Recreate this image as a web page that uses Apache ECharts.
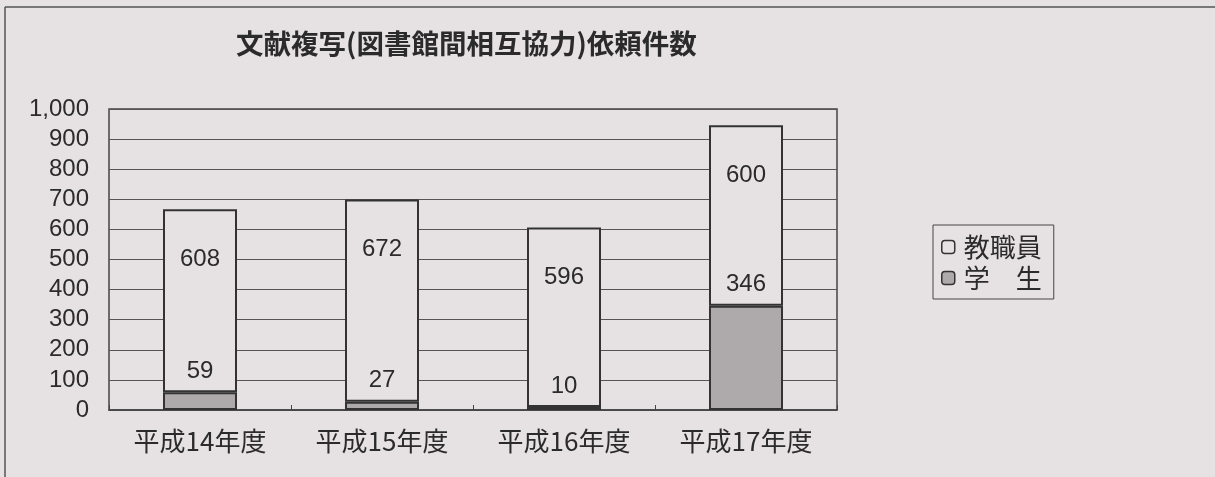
<!DOCTYPE html>
<html>
<head>
<meta charset="utf-8">
<script src="https://cdn.jsdelivr.net/npm/echarts@6/dist/echarts.min.js"></script>
<style>
html,body{margin:0;padding:0;background:#e6e2e3;}
#chart{width:1215px;height:477px;}
</style>
</head>
<body>
<div id="chart"></div>
<script>
const titleText = '文献複写(図書館間相互協力)依頼件数';
const categories = ['平成14年度', '平成15年度', '平成16年度', '平成17年度'];
const studentValues = [59, 27, 10, 346];
const staffValues = [608, 672, 596, 600];
const seriesNames = ['教職員', '学　生'];

const numFont = '"Liberation Sans", Arial, sans-serif';
const cjkFont = '"Noto Sans CJK JP", "Noto Sans", sans-serif';
const ink = '#2b2b2b';

const chart = echarts.init(document.getElementById('chart'), null, {renderer: 'canvas'});
chart.setOption({
  backgroundColor: '#e6e2e3',
  animation: false,
  title: {
    text: titleText,
    left: 231,
    top: 25,
    textStyle: {fontFamily: cjkFont, fontSize: 27.5, fontWeight: 'bold', color: ink}
  },
  graphic: [
    {type: 'line', shape: {x1: 5, y1: 7, x2: 1215, y2: 7}, style: {stroke: '#555', lineWidth: 1.5}},
    {type: 'line', shape: {x1: 5, y1: 7, x2: 5, y2: 477}, style: {stroke: '#555', lineWidth: 1.5}}
  ],
  legend: {
    data: [seriesNames[0], seriesNames[1]],
    orient: 'vertical',
    left: 933,
    top: 225,
    padding: [9, 12, 8, 8],
    itemGap: 5,
    itemWidth: 13,
    itemHeight: 13,
    borderColor: '#444',
    borderWidth: 1,
    itemStyle: {borderColor: '#333', borderWidth: 1.5},
    textStyle: {fontFamily: cjkFont, fontSize: 26, color: ink, padding: [0, 0, 0, 4]},
    selectedMode: false
  },
  grid: {
    left: 109, right: 378, top: 109, bottom: 67,
    show: true, borderColor: '#444', borderWidth: 1.5, backgroundColor: 'transparent'
  },
  xAxis: {
    type: 'category',
    data: categories,
    axisLine: {lineStyle: {color: '#444', width: 1.5}},
    axisTick: {show: true, inside: true, length: 5, lineStyle: {color: '#444'}},
    axisLabel: {fontFamily: cjkFont, fontSize: 26, color: ink, margin: 18}
  },
  yAxis: {
    type: 'value',
    min: 0, max: 1000, interval: 100,
    axisLine: {show: false},
    axisTick: {show: false},
    splitLine: {lineStyle: {color: '#555', width: 1}},
    axisLabel: {
      fontFamily: numFont, fontSize: 24, color: ink, margin: 20,
      formatter: v => v.toLocaleString('en-US')
    }
  },
  series: [
    {
      name: seriesNames[1],
      type: 'bar',
      stack: 'total',
      data: studentValues,
      barWidth: 74,
      itemStyle: {color: '#aeaaac', borderColor: '#333', borderWidth: 2},
      label: {show: true, position: 'top', distance: 9, fontFamily: numFont, fontSize: 24, color: ink}
    },
    {
      name: seriesNames[0],
      type: 'bar',
      stack: 'total',
      data: staffValues,
      barWidth: 74,
      itemStyle: {color: '#e6e2e3', borderColor: '#333', borderWidth: 2},
      label: {show: true, position: 'insideTop', distance: 38, fontFamily: numFont, fontSize: 24, color: ink}
    }
  ]
});
</script>
</body>
</html>
